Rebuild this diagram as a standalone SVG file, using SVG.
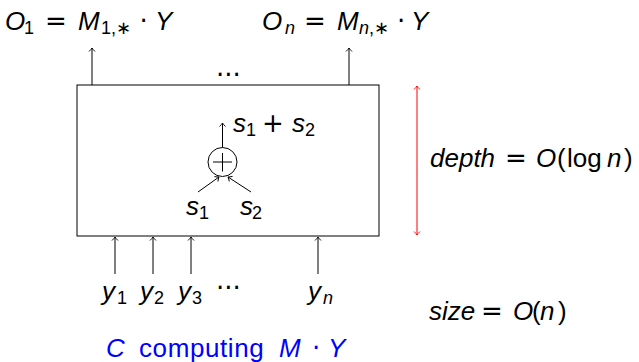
<svg xmlns="http://www.w3.org/2000/svg" width="639" height="362" viewBox="0 0 639 362">
<style>
text{font-family:"Liberation Sans",Arial,sans-serif;font-size:26px;fill:#000}
.i{font-style:italic}
.s{font-size:18px}
.m{font-family:"DejaVu Sans",sans-serif;font-style:normal}
.blue{fill:#0000ff}
.ln{stroke:#000;stroke-width:1;fill:none}
.red{stroke:#ff0000;stroke-width:1;fill:none}
</style>
<defs>
<marker id="ah" viewBox="-5 -4 6 8" refX="0" refY="0" markerWidth="6" markerHeight="8" markerUnits="userSpaceOnUse" orient="auto">
<path d="M-3.5,-3 Q-1.5,-1 0,0 Q-1.5,1 -3.5,3" fill="none" stroke="#000" stroke-width="0.9"/>
</marker>
<marker id="ahr" viewBox="-5 -4 6 8" refX="0" refY="0" markerWidth="6" markerHeight="8" markerUnits="userSpaceOnUse" orient="auto-start-reverse">
<path d="M-3.5,-3 Q-1.5,-1 0,0 Q-1.5,1 -3.5,3" fill="none" stroke="#ff0000" stroke-width="0.9"/>
</marker>
</defs>

<g id="circuit">
<rect x="77" y="85" width="302" height="151" class="ln"/>
</g>

<g id="adder">
<circle cx="222.5" cy="162" r="14.5" class="ln"/>
<line x1="213" y1="162" x2="232" y2="162" class="ln"/>
<line x1="222.5" y1="153" x2="222.5" y2="171.5" class="ln"/>
</g>

<g id="connectors">
<line x1="92" y1="85" x2="92" y2="48" class="ln" marker-end="url(#ah)"/>
<line x1="349" y1="85" x2="349" y2="48" class="ln" marker-end="url(#ah)"/>
<line x1="115" y1="274" x2="115" y2="237" class="ln" marker-end="url(#ah)"/>
<line x1="153" y1="274" x2="153" y2="237" class="ln" marker-end="url(#ah)"/>
<line x1="191" y1="274" x2="191" y2="237" class="ln" marker-end="url(#ah)"/>
<line x1="318" y1="274" x2="318" y2="237" class="ln" marker-end="url(#ah)"/>
<line x1="222.5" y1="147.5" x2="222.5" y2="123" class="ln" marker-end="url(#ah)"/>
<line x1="198" y1="192" x2="219" y2="177" class="ln" marker-end="url(#ah)"/>
<line x1="251" y1="192" x2="228" y2="177" class="ln" marker-end="url(#ah)"/>
<line x1="417" y1="86" x2="417" y2="235" class="red" marker-start="url(#ahr)" marker-end="url(#ahr)"/>
</g>

<g id="output-labels">
<text y="30"><tspan class="i" x="5">O</tspan><tspan class="s" x="24" y="34">1</tspan><tspan class="m" x="45" y="30">=</tspan><tspan class="i" x="78">M</tspan><tspan class="s" x="101" y="34">1,<tspan class="m">∗</tspan></tspan><tspan class="m" x="139.5" y="30">·</tspan><tspan class="i" x="155">Y</tspan></text>
<text y="30"><tspan class="i" x="262">O</tspan><tspan class="s i" x="285" y="34">n</tspan><tspan class="m" x="304" y="30">=</tspan><tspan class="i" x="337">M</tspan><tspan class="s" x="359" y="34"><tspan class="i">n</tspan>,<tspan class="m">∗</tspan></tspan><tspan class="m" x="397" y="30">·</tspan><tspan class="i" x="411">Y</tspan></text>
<text class="m" x="216" y="76">...</text>
</g>

<g id="adder-labels">
<text y="132"><tspan class="i" x="233">s</tspan><tspan class="s" x="246" y="136">1</tspan><tspan class="m" x="262" y="132">+</tspan><tspan class="i" x="292">s</tspan><tspan class="s" x="305" y="136">2</tspan></text>
<text y="215"><tspan class="i" x="186">s</tspan><tspan class="s" x="199" y="219">1</tspan></text>
<text y="215"><tspan class="i" x="240">s</tspan><tspan class="s" x="252" y="219">2</tspan></text>
</g>

<g id="input-labels">
<text y="300"><tspan class="i" x="102">y</tspan><tspan class="s" x="117" y="304">1</tspan></text>
<text y="300"><tspan class="i" x="140">y</tspan><tspan class="s" x="154" y="304">2</tspan></text>
<text y="300"><tspan class="i" x="178">y</tspan><tspan class="s" x="192" y="304">3</tspan></text>
<text class="m" x="216" y="289">...</text>
<text y="300"><tspan class="i" x="308">y</tspan><tspan class="s i" x="323" y="304">n</tspan></text>
</g>

<g id="depth-label">
<text y="167"><tspan class="i" x="430">depth</tspan><tspan class="m" x="505">=</tspan><tspan class="i" x="536">O</tspan><tspan x="557">(</tspan><tspan x="567">log</tspan><tspan class="i" x="607">n</tspan><tspan x="624">)</tspan></text>
</g>

<g id="size-label">
<text y="320"><tspan class="i" x="429">size</tspan><tspan class="m" x="481">=</tspan><tspan class="i" x="513">O</tspan><tspan x="532">(</tspan><tspan class="i" x="540">n</tspan><tspan x="558">)</tspan></text>
</g>

<g id="caption">
<text y="357" class="blue"><tspan class="i" x="106">C</tspan><tspan x="139" letter-spacing="0.6">computing</tspan><tspan class="i" x="279">M</tspan><tspan class="m" x="312">·</tspan><tspan class="i" x="328">Y</tspan></text>
</g>
</svg>
